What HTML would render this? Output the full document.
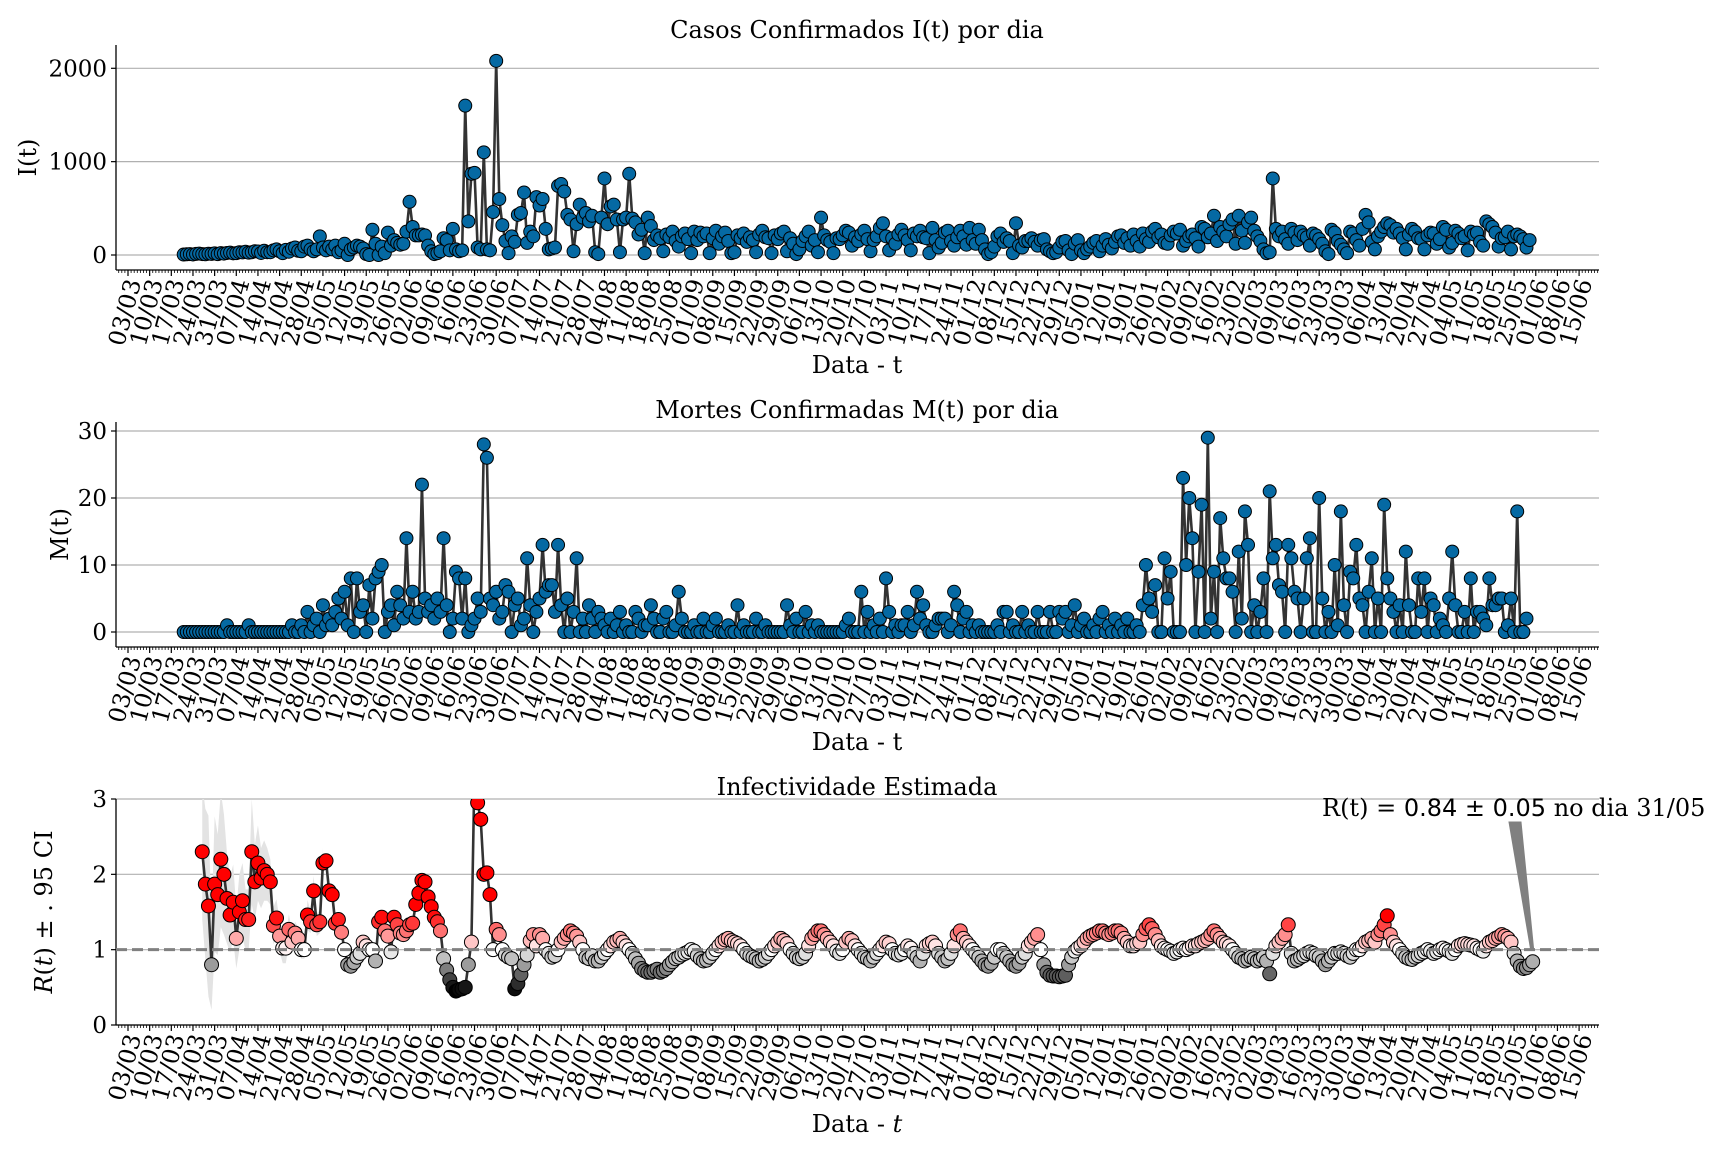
<!DOCTYPE html>
<html><head><meta charset="utf-8">
<style>
html,body{margin:0;padding:0;background:#fff;}
svg{display:block;font-family:"DejaVu Serif","Liberation Serif",serif;}
</style></head>
<body>
<svg id="chart" width="1728" height="1152" viewBox="0 0 1728 1152" xmlns="http://www.w3.org/2000/svg">
<defs>
<clipPath id="clip1"><rect x="116" y="40" width="1484" height="232"/></clipPath>
<clipPath id="clip2"><rect x="116" y="418" width="1484" height="231"/></clipPath>
<clipPath id="clip3"><rect x="116" y="799" width="1484" height="228"/></clipPath>
</defs>
<g id="root"></g>
</svg>
<script>
// ---------- data ----------
const tickLabels = ["03/03","10/03","17/03","24/03","31/03","07/04","14/04","21/04","28/04","05/05","12/05","19/05","26/05","02/06","09/06","16/06","23/06","30/06","07/07","14/07","21/07","28/07","04/08","11/08","18/08","25/08","01/09","08/09","15/09","22/09","29/09","06/10","13/10","20/10","27/10","03/11","10/11","17/11","24/11","01/12","08/12","15/12","22/12","29/12","05/01","12/01","19/01","26/01","02/02","09/02","16/02","23/02","02/03","09/03","16/03","23/03","30/03","06/04","13/04","20/04","27/04","04/05","11/05","18/05","25/05","01/06","08/06","15/06"];
const iStartDay = 18;
const casesI = [5,8,10,6,12,15,10,8,14,12,18,9,20,15,22,25,18,20,30,28,35,25,30,40,38,22,45,30,
30,50,60,40,20,55,35,70,80,45,40,90,100,60,
40,60,200,80,50,90,60,100,30,50,120,0,60,80,100,90,70,10,0,270,120,0,90,20,240,100,160,130,110,120,250,570,300,210,210,220,210,100,40,10,20,40,180,160,50,280,60,40,50,1600,360,870,880,80,60,1100,60,50,460,2080,
600,320,150,20,200,140,430,450,670,130,250,200,620,530,600,280,60,70,80,740,760,680,430,380,40,330,540,400,450,360,420,30,10,400,820,330,520,540,380,30,380,400,870,390,350,220,270,20,400,310,160,
210,180,40,220,190,250,150,90,200,230,170,20,250,160,240,200,230,20,180,260,120,200,240,150,20,30,210,180,230,140,
190,160,30,220,260,190,180,20,210,170,230,250,40,180,120,10,60,150,200,250,100,160,30,400,210,160,140,20,180,170,
210,260,240,100,190,150,220,260,170,40,160,200,290,340,200,50,180,120,220,270,210,160,50,230,200,260,190,180,20,290,
160,80,130,240,260,150,100,190,260,200,110,290,160,120,270,160,60,10,30,90,200,230,140,180,150,20,340,100,80,150,
150,180,140,100,160,170,60,40,20,30,80,140,150,50,10,120,160,50,20,60,90,130,150,40,100,170,110,70,140,200,
210,130,180,100,220,150,90,230,170,140,250,280,190,220,130,120,210,250,230,270,100,150,200,220,180,90,300,280,190,230,
420,150,300,250,200,330,380,120,420,260,130,350,400,260,200,150,60,20,30,820,280,200,250,170,120,280,240,160,250,210,
190,100,230,210,170,120,40,10,270,240,150,110,60,20,250,230,160,100,280,430,350,140,60,200,250,300,340,320,240,280,
230,180,60,220,280,250,180,170,60,210,240,230,120,170,300,270,80,130,260,230,180,200,50,250,220,240,140,100,360,330,300,240,90,180,190,250,60,200,220,200,170,80,160];
const mStartDay = 18;
const deathsM = [0,0,0,0,0,0,0,0,0,0, 0,0,0,0,1,0,0,0,0,0, 0,1,0,0,0,0,0,0,0,0, 0,0,0,0,0,1,0,0,1,0,
3,0,1,2,0,4,1,2,1,3, 5,2,6,1,8,0,8,3,4,0, 7,2,8,9,10,0,3,4,1,6, 4,2,14,3,6,2,3,22,5,3, 4,2,5,3,14,4,0,2,9,8,
2,8,0,1,2,5,3,28,26,5, 4,6,2,3,7,6,0,4,5,1, 2,11,4,0,3,5,13,6,7,7, 3,13,4,0,5,0,3,11,0,2, 0,4,2,0,3,2,1,0,2,0,
1,3,0,1,0,0,3,2,0,1, 1,4,2,0,0,2,3,0,0,1, 6,2,0,0,0,1,0,0,2,0, 0,1,2,0,0,0,1,0,0,4, 0,1,0,0,0,2,0,0,1,0,
0,0,0,0,0,4,1,0,2,0, 0,3,0,1,0,1,0,0,0,0, 0,0,0,0,1,2,0,0,0,6, 0,3,0,1,0,2,0,8,3,0, 1,0,1,1,3,0,1,6,2,4,
1,0,0,1,2,2,2,0,1,6, 4,0,2,3,0,1,0,1,0,0, 0,0,0,1,0,3,3,0,1,0, 0,3,0,1,0,0,3,0,0,0, 3,0,0,3,2,3,0,1,4,0,
1,2,0,0,1,0,2,3,0,1, 0,2,0,1,0,2,0,0,1,0, 4,10,5,3,7,0,0,11,5,9, 0,0,0,23,10,20,14,0,9,19, 0,29,2,9,0,17,11,8,8,6,
0,12,2,18,13,0,4,0,3,8, 0,21,11,13,7,6,0,13,11,6, 5,0,5,11,14,0,0,20,5,0, 3,0,10,1,18,4,0,9,8,13, 5,4,0,6,11,0,5,0,19,8,
5,3,0,4,0,12,4,0,0,8, 3,8,0,5,4,0,2,1,0,5, 12,4,0,0,3,0,8,0,3,3, 2,1,8,4,4,5,5,0,1,5, 0,18,0,0,2];
const rStartDay = 24;
const rValues = [2.3,1.87,1.58,0.8,1.87,1.73,2.2,2.0,1.68,1.46, 1.63,1.15,1.5,1.65,1.4,1.4,2.3,1.9,2.15,1.95,
2.05,2.0,1.9,1.32,1.42,1.18,1.02,1.02,1.27,1.1, 1.22,1.15,1.0,1.0,1.46,1.37,1.78,1.33,1.37,2.15,
2.18,1.78,1.73,1.35,1.4,1.23,1.0,0.8,0.78,0.83, 0.9,0.95,1.1,1.05,1.0,1.0,0.85,1.37,1.43,1.25,
1.18,0.97,1.43,1.33,1.22,1.2,1.25,1.33,1.35,1.6, 1.75,1.92,1.9,1.7,1.57,1.43,1.37,1.25,0.88,0.73,
0.6,0.5,0.45,0.47,0.48,0.5,0.8,1.1,3.4,2.95, 2.73,2.0,2.02,1.73,1.0,1.27,1.2,1.0,0.93,0.9,
0.88,0.48,0.55,0.67,0.8,0.93,1.12,1.2,
1.05,1.2,1.15,1.0,0.95,0.9,0.92,1.0,1.1,1.15, 1.2,1.25,1.22,1.18,1.1,1.0,0.9,0.88,0.92,0.85,
0.85,0.9,0.95,1.0,1.05,1.1,1.12,1.15,1.1,1.05, 1.0,0.95,0.88,0.82,0.75,0.72,0.7,0.7,0.72,0.74,
0.7,0.72,0.75,0.8,0.84,0.88,0.9,0.93,0.95,0.97, 1.0,0.98,0.92,0.88,0.85,0.86,0.9,0.95,1.0,1.05,
1.1,1.13,1.15,1.12,1.1,1.08,1.05,1.0,0.95,0.92, 0.9,0.88,0.85,0.87,0.9,0.95,1.0,1.05,1.1,1.15,
1.12,1.08,1.0,0.95,0.9,0.88,0.9,0.95,1.05,1.15, 1.2,1.25,1.25,1.2,1.15,1.1,1.05,0.98,0.95,1.0,
1.1,1.15,1.12,1.05,1.0,0.95,0.9,0.88,0.85,0.9, 0.95,1.0,1.05,1.1,1.08,1.0,0.95,0.93,0.95,1.0,
1.05,1.02,0.95,0.9,0.85,0.95,1.05,1.08,1.1,1.05, 0.95,0.9,0.85,0.88,0.95,1.05,1.2,1.25,1.15,1.1,
1.05,1.0,0.95,0.9,0.85,0.8,0.78,0.82,0.9,1.0, 1.0,0.95,0.9,0.85,0.8,0.78,0.82,0.9,0.95,1.05,
1.1,1.15,1.2,1.0,0.8,0.7,0.66,0.65,0.65,0.64, 0.65,0.66,0.8,0.9,0.98,1.02,1.05,1.1,1.15,1.18,
1.2,1.22,1.25,1.25,1.22,1.2,1.22,1.25,1.25,1.22, 1.15,1.1,1.05,1.05,1.08,1.1,1.2,1.28,1.33,1.28,
1.2,1.12,1.05,1.02,1.0,0.98,0.95,0.97,1.0,1.02, 1.0,1.02,1.05,1.05,1.08,1.1,1.12,1.15,1.2,1.25,
1.2,1.15,1.1,1.08,1.05,1.0,0.95,0.9,0.88,0.85, 0.87,0.9,0.88,0.85,0.87,0.9,0.85,0.68,0.95,1.05,
1.1,1.15,1.2,1.33,0.95,0.85,0.87,0.9,0.92,0.95, 0.97,0.95,0.92,0.9,0.85,0.8,0.85,0.9,0.95,0.95,
0.97,0.95,0.92,0.9,0.95,1.0,1.0,1.05,1.1,1.12, 1.15,1.1,1.2,1.25,1.33,1.45,1.2,1.1,1.05,1.0,
0.95,0.9,0.88,0.87,0.9,0.92,0.95,0.97,1.0,0.98, 0.95,0.97,1.0,1.02,1.0,0.98,0.95,1.0,1.05,1.07,
1.08,1.07,1.06,1.05,1.02,1.0,0.98,1.05,1.1,1.12, 1.15,1.17,1.2,1.18,1.15,1.1,0.95,0.85,0.78,0.75,
0.76,0.8,0.84];
const rCiHalf = [0.9,1.0,1.2,0.6,0.9,0.8,0.9,0.8,0.6,0.5, 0.5,0.4,0.5,0.5,0.4,0.4,0.7,0.5,0.5,0.4,
0.4,0.35,0.3,0.25,0.25,0.2,0.2,0.2,0.2,0.15, 0.15,0.15,0.12,0.12,0.2,0.15,0.2,0.15,0.15,0.2];

// ---------- helpers ----------
const NS = "http://www.w3.org/2000/svg";
const root = document.getElementById('root');
function mk(tag, attrs, parent){ const e=document.createElementNS(NS,tag); for(const k in attrs) e.setAttribute(k,attrs[k]); (parent||root).appendChild(e); return e; }
const X0 = 116, X1 = 1599;
function xDay(d){ return 128 + d*3.094; }
function rColor(v){
  if(v < 1){ const t=Math.max(0,Math.min(1,(v-0.45)/0.55)); const g=Math.round(t*245); return `rgb(${g},${g},${g})`; }
  const t=Math.min(1,(v-1)/0.45); const c=Math.round(255*(1-t)); return `rgb(255,${c},${c})`;
}

function panel(cfg){
  const g = mk('g',{});
  
  
  const y = v => cfg.y0 + (v - 0) * (cfg.yTop - cfg.y0) / cfg.vTop;
  cfg.yTicks.forEach(t => {
    const gl = mk('line',{x1:X0,x2:X1,y1:y(t),y2:y(t),stroke:'#b0b0b0','stroke-width':1.2},g);
    
    
    const tk = mk('line',{x1:X0-5,x2:X0,y1:y(t),y2:y(t),stroke:'#000','stroke-width':1.2},g);
    
    
    const tl = mk('text',{x:X0-9,y:y(t)+8,'text-anchor':'end','font-size':23,fill:'#000'},g);
    tl.textContent = t;
    
    
  });
  const ls = mk('line',{x1:X0,x2:X0,y1:cfg.spTop,y2:cfg.spBot,stroke:'#000','stroke-width':1.3},g);
  
  
  const bs = mk('line',{x1:X0,x2:X1,y1:cfg.spBot,y2:cfg.spBot,stroke:'#000','stroke-width':1.3},g);
  
  
  for(let d=-3; d<=475; d++){
    const xx=xDay(d); if(xx<X0||xx>X1) continue;
    const major = d>=0 && d%7===0;
    const tk = mk('line',{x1:xx,x2:xx,y1:cfg.spBot,y2:cfg.spBot+(major?6:3),stroke:'#000','stroke-width':major?1.2:0.8},g);
    
    
  }
  tickLabels.forEach((lab,i)=>{
    const xx = xDay(i*7)+7, yy = cfg.spBot+10;
    const t = mk('text',{x:xx,y:yy,'text-anchor':'end','font-size':23.5,fill:'#000',transform:`rotate(-75 ${xx} ${yy})`,'dominant-baseline':'middle'},g);
    t.textContent = lab;
    
    
  });
  const tt = mk('text',{x:857,y:cfg.titleY,'text-anchor':'middle','font-size':24,fill:'#000'},g);
  tt.textContent = cfg.title;
  
  
  const xl = mk('text',{x:857,y:cfg.xlabY,'text-anchor':'middle','font-size':24,fill:'#000'},g);
  xl.innerHTML = cfg.xlab;
  
  
  const ymid=(cfg.spTop+cfg.spBot)/2;
  const yl = mk('text',{x:cfg.ylabX,y:ymid,'text-anchor':'middle','font-size':24,fill:'#000',transform:`rotate(-90 ${cfg.ylabX} ${ymid})`},g);
  yl.innerHTML = cfg.ylab;
  
  
  return {g,y};
}

// ---------- panel 1 ----------
(function(){
  const p = panel({name:'cases-panel',y0:255,yTop:68.3,vTop:2000,yTicks:[0,1000,2000],spTop:45,spBot:270,titleY:38,xlabY:373,ylabX:36,
    title:'Casos Confirmados I(t) por dia', xlab:'Data - t', ylab:'I(t)'});
  const cg = mk('g',{'clip-path':'url(#clip1)'},p.g);
  const pts = casesI.map((v,i)=>[xDay(iStartDay+i), p.y(v)]);
  const line = mk('polyline',{points:pts.map(q=>q.join(',')).join(' '),fill:'none',stroke:'#333','stroke-width':2.6,'stroke-linejoin':'round'},cg);
  
  
  pts.forEach(q=>{
    const c = mk('circle',{cx:q[0],cy:q[1],r:6.5,fill:'#0569a3',stroke:'#000','stroke-width':1},cg);
    
    
  });
})();

// ---------- panel 2 ----------
(function(){
  const p = panel({name:'deaths-panel',y0:632,yTop:431,vTop:30,yTicks:[0,10,20,30],spTop:422,spBot:647,titleY:418,xlabY:750,ylabX:68,
    title:'Mortes Confirmadas M(t) por dia', xlab:'Data - t', ylab:'M(t)'});
  const cg = mk('g',{'clip-path':'url(#clip2)'},p.g);
  const pts = deathsM.map((v,i)=>[xDay(mStartDay+i), p.y(v)]);
  const line = mk('polyline',{points:pts.map(q=>q.join(',')).join(' '),fill:'none',stroke:'#333','stroke-width':2.6,'stroke-linejoin':'round'},cg);
  
  
  pts.forEach(q=>{
    const c = mk('circle',{cx:q[0],cy:q[1],r:6.5,fill:'#0569a3',stroke:'#000','stroke-width':1},cg);
    
    
  });
})();

// ---------- panel 3 ----------
(function(){
  const p = panel({name:'rt-panel',y0:1025,yTop:799,vTop:3,yTicks:[0,1,2,3],spTop:799,spBot:1025,titleY:795,xlabY:1132,ylabX:52,
    title:'Infectividade Estimada', xlab:'Data - <tspan font-style="italic">t</tspan>', ylab:'<tspan font-style="italic">R</tspan>(<tspan font-style="italic">t</tspan>) ± . 95 CI'});
  const cg = mk('g',{'clip-path':'url(#clip3)'},p.g);
  const up=[], lo=[];
  rCiHalf.forEach((h,i)=>{ const d=rStartDay+i, v=rValues[i]; up.push([xDay(d),p.y(v+h)]); lo.unshift([xDay(d),p.y(Math.max(0,v-h))]); });
  const band = mk('polygon',{points:up.concat(lo).map(q=>q.join(',')).join(' '),fill:'#e3e3e3',stroke:'none'},cg);
  
  
  const dl = mk('line',{x1:X0,x2:X1,y1:p.y(1),y2:p.y(1),stroke:'#808080','stroke-width':3,'stroke-dasharray':'11,5'},p.g);
  
  
  const pts = rValues.map((v,i)=>[xDay(rStartDay+i), p.y(v)]);
  const line = mk('polyline',{points:pts.map(q=>q.join(',')).join(' '),fill:'none',stroke:'#333','stroke-width':2.6,'stroke-linejoin':'round'},cg);
  
  
  pts.forEach((q,i)=>{
    const c = mk('circle',{cx:q[0],cy:q[1],r:7,fill:rColor(rValues[i]),stroke:'#000','stroke-width':1},cg);
    
    
  });
  const lastX = xDay(rStartDay+rValues.length-1);
  const ar = mk('polygon',{points:`1509,822 1521,822 ${lastX+1},${p.y(1)} ${lastX-2},${p.y(1)}`,fill:'#808080',stroke:'#808080','stroke-width':1},p.g);
  
  
  const at = mk('text',{x:1322,y:816,'font-size':24,fill:'#000'},p.g);
  at.innerHTML = 'R(t) = <tspan font-family="DejaVu Sans, sans-serif">0.84 ± 0.05</tspan> no dia 31/05';
  
  
})();
</script>
</body></html>
